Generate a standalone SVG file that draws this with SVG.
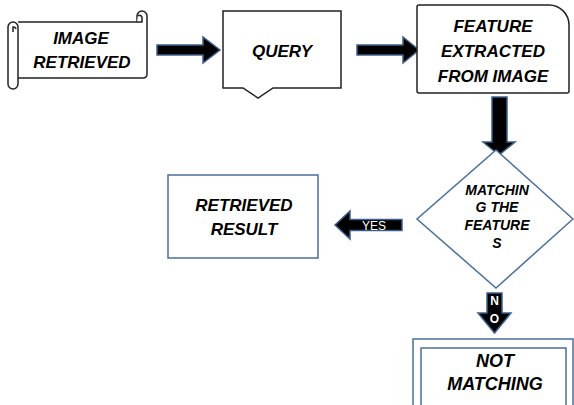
<svg xmlns="http://www.w3.org/2000/svg" width="574" height="405" viewBox="0 0 574 405">
<defs>
<style>
.lbl{font-family:"Liberation Sans",Arial,sans-serif;font-weight:bold;font-style:italic;font-size:17px;fill:#000;text-anchor:middle}
.dlbl{font-family:"Liberation Sans",Arial,sans-serif;font-weight:bold;font-style:italic;font-size:14px;fill:#000;text-anchor:middle}
.alab{font-family:"Liberation Sans",Arial,sans-serif;font-size:12px;fill:#fff;text-anchor:middle}
.blk{fill:#fff;stroke:#222;stroke-width:1.5}
.blu{fill:#fff;stroke:#4a6e9b;stroke-width:1.5}
.arr{fill:#000;stroke:#3d5f8c;stroke-width:1.5;stroke-linejoin:miter}
</style>
</defs>
<rect width="574" height="405" fill="#fff"/>
<g id="connectors">
<polygon class="arr" points="157,45 203,45 203,37 220,50 203,63 203,55 157,55"/>
<polygon class="arr" points="357,45 403,45 403,37 419,50 403,63 403,55 357,55"/>
<polygon class="arr" points="492,97 507,97 507,142 515,142 499,155 483,142 492,142"/>
<g id="yes-arrow">
<polygon class="arr" points="402,219.5 350,219.5 350,211 335,225 350,239 350,230.5 402,230.5"/>
<text class="alab" x="374" y="229.5">YES</text>
</g>
<g id="no-arrow">
<polygon class="arr" points="487,293 502,293 502,313 511,313 494.5,333 478,313 487,313"/>
<text class="alab" x="494.5" y="305" style="font-weight:bold">N</text>
<text class="alab" x="494.5" y="323" style="font-weight:bold">O</text>
</g>
</g>
<g id="node-image-retrieved">
<path class="blk" d="M18,22 H137 V16 A5,5 0 0 1 147,16 V74 Q147,78 143,78 H18"/>
<path class="blk" d="M137,22 H142 V17 A2.5,2.5 0 0 0 138,16" fill="none"/>
<path class="blk" d="M8,27 A5,5 0 0 1 18,27 V84 A5,5 0 0 1 8,84 Z"/>
<path class="blk" d="M13,32 V27 A2.5,2.5 0 0 1 16,29" fill="none"/>
<text class="lbl" x="81" y="44">IMAGE</text>
<text class="lbl" x="82" y="68">RETRIEVED</text>
</g>
<g id="node-query">
<path class="blk" d="M223,11 H341 V88 H273 L258,98 L243,88 H223 Z"/>
<text class="lbl" x="282" y="57">QUERY</text>
</g>
<g id="node-feature">
<path class="blk" d="M419,5 H549 A20,20 0 0 1 569,25 V91 Q569,93 567,93 H419 Q417,93 417,91 V7 Q417,5 419,5 Z"/>
<text class="lbl" x="493" y="32">FEATURE</text>
<text class="lbl" x="493" y="57">EXTRACTED</text>
<text class="lbl" x="493" y="82">FROM IMAGE</text>
</g>
<g id="node-matching">
<path class="blu" d="M496,150 L573,219 L496,288 L417,219 Z"/>
<text class="dlbl" x="497" y="195">MATCHIN</text>
<text class="dlbl" x="497" y="212">G THE</text>
<text class="dlbl" x="497" y="230">FEATURE</text>
<text class="dlbl" x="497" y="248">S</text>
</g>
<g id="node-retrieved-result">
<rect class="blu" x="168" y="175" width="150" height="83"/>
<text class="lbl" x="244" y="211">RETRIEVED</text>
<text class="lbl" x="244" y="235">RESULT</text>
</g>
<g id="node-not-matching">
<rect class="blu" x="413" y="339" width="160" height="80"/>
<rect class="blu" x="421" y="348" width="145" height="70"/>
<text class="lbl" x="495" y="367" style="font-size:18px">NOT</text>
<text class="lbl" x="495" y="390" style="font-size:18px">MATCHING</text>
</g>
</svg>
